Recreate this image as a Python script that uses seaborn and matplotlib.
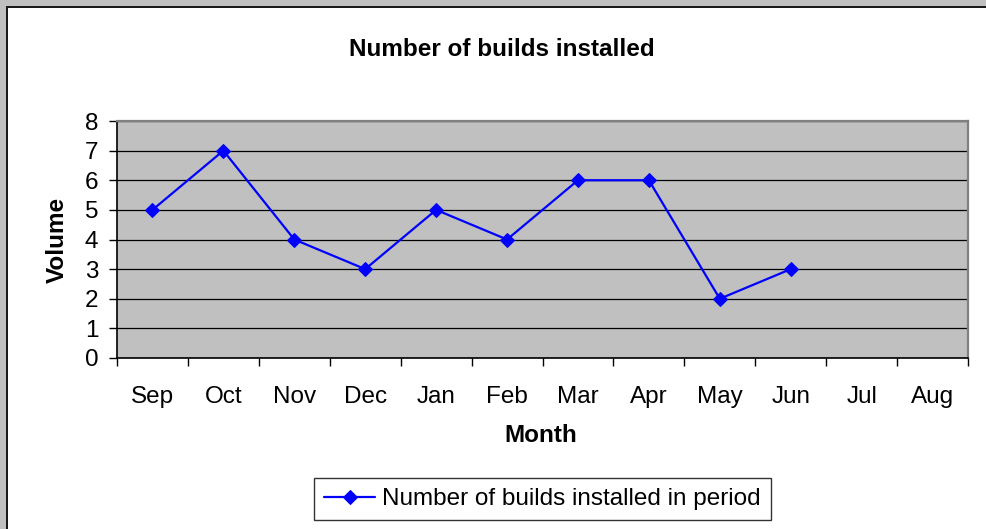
import pandas as pd
import matplotlib
matplotlib.use("Agg")
import matplotlib.pyplot as plt
import seaborn as sns
from matplotlib.patches import Rectangle

# data (Jul and Aug have no value yet)
months = ["Sep", "Oct", "Nov", "Dec", "Jan", "Feb", "Mar", "Apr", "May", "Jun", "Jul", "Aug"]
builds = [5, 7, 4, 3, 5, 4, 6, 6, 2, 3]
series_name = "Number of builds installed in period"

sns.set_style("white")
plt.rcParams["font.family"] = ["Liberation Sans", "DejaVu Sans"]
plt.rcParams["text.color"] = "black"
plt.rcParams["axes.labelcolor"] = "black"
plt.rcParams["xtick.color"] = "black"
plt.rcParams["ytick.color"] = "black"
FS = 17.5

df = pd.DataFrame({"pos": range(len(builds)), "builds": builds, "series": series_name})

W, H = 986, 529
fig = plt.figure(figsize=(W / 100, H / 100), dpi=100, facecolor="white")
ax = fig.add_axes([117 / W, 1 - 358 / H, (968 - 117) / W, (358 - 121) / H])
ax.set_facecolor("#c0c0c0")

sns.lineplot(
    data=df, x="pos", y="builds", hue="series", palette=["#0000ff"],
    marker="D", markersize=7, markeredgecolor="#0000ff", linewidth=1.6,
    ax=ax, legend=True,
)

ax.set_xlim(-0.5, len(months) - 0.5)
ax.set_ylim(0, 8)
ax.set_yticks(range(0, 9))
ax.set_xticks(range(len(months)))
ax.set_xticklabels(months)
ax.set_xticks([i - 0.5 for i in range(len(months) + 1)], minor=True)
ax.tick_params(axis="x", which="major", bottom=True, length=0, pad=20, labelsize=FS,
               labelcolor="black")
ax.tick_params(axis="x", which="minor", bottom=True, length=6, width=1, color="black",
               direction="out")
ax.tick_params(axis="y", left=True, length=5.5, width=1, color="black", direction="out",
               pad=8, labelsize=FS, labelcolor="black")
ax.yaxis.grid(True, color="black", linewidth=0.9)
ax.set_axisbelow(True)

for side in ["left", "bottom"]:
    ax.spines[side].set_color("black")
    ax.spines[side].set_linewidth(1.2)
for side in ["top", "right"]:
    ax.spines[side].set_visible(True)
    ax.spines[side].set_color("#808080")
    ax.spines[side].set_linewidth(1.6)

ax.set_xlabel("Month", fontsize=FS, fontweight="bold")
ax.xaxis.set_label_coords(541 / W, 1 - 436 / H, transform=fig.transFigure)
ax.xaxis.label.set_va("center")
ax.set_ylabel("Volume", fontsize=FS, fontweight="bold")
ax.yaxis.set_label_coords(57 / W, 1 - 240 / H, transform=fig.transFigure)
ax.yaxis.label.set_va("center")

fig.text(501.5 / W, 1 - 49 / H, "Number of builds installed", fontsize=FS,
         fontweight="bold", ha="center", va="center", color="black")

handles, labels = ax.get_legend_handles_labels()
ax.get_legend().remove()
leg = fig.legend(
    handles, labels, loc="center", bbox_to_anchor=(542.5 / W, 1 - 499 / H),
    fontsize=FS, frameon=True, fancybox=False, edgecolor="black",
    handlelength=2.1, handletextpad=0.3, borderpad=0.4, borderaxespad=0,
)
leg.get_frame().set_linewidth(1.0)
for t in leg.get_texts():
    t.set_color("black")

# window-like frame: grey band and dark line at top and left
fig.add_artist(Rectangle((0, 1 - 6 / H), 1, 6 / H, transform=fig.transFigure,
                         facecolor="#c0c0c0", edgecolor="none"))
fig.add_artist(Rectangle((0, 0), 6 / W, 1, transform=fig.transFigure,
                         facecolor="#c0c0c0", edgecolor="none"))
fig.add_artist(Rectangle((6 / W, 0), 2 / W, 1 - 6 / H, transform=fig.transFigure,
                         facecolor="#1a1a1a", edgecolor="none"))
fig.add_artist(Rectangle((6 / W, 1 - 8 / H), 1, 2 / H, transform=fig.transFigure,
                         facecolor="#1a1a1a", edgecolor="none"))

fig.savefig("out.png", dpi=100, facecolor="white")
